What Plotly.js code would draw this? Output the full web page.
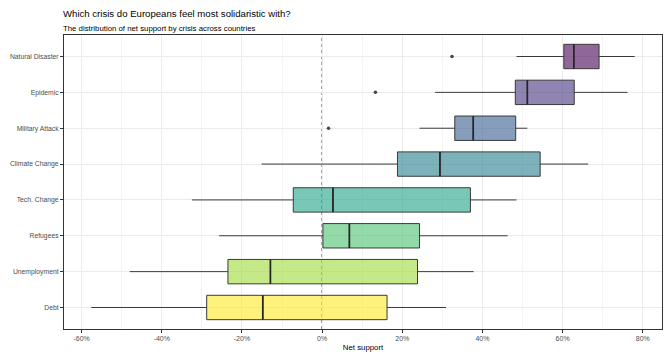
<!DOCTYPE html>
<html>
<head>
<meta charset="utf-8">
<script src="https://cdn.plot.ly/plotly-3.0.1.min.js"></script>
<style>
  html, body { margin: 0; padding: 0; background: #ffffff; }
  #chart { width: 668px; height: 352px; }
</style>
</head>
<body>
<div id="chart"></div>
<script>
// Net support (%) by crisis, summarised across countries
const crisis = ['Natural Disaster', 'Epidemic', 'Military Attack', 'Climate Change',
                'Tech. Change', 'Refugees', 'Unemployment', 'Debt'];
const lowerWhisker = [48.5, 28.2, 24.3, -15.1, -32.5, -25.7, -48.0, -57.6];
const q1           = [60.3, 48.2, 33.1, 18.8, -7.2, 0.2, -23.5, -28.8];
const median       = [62.8, 51.2, 37.7, 29.4, 2.7, 6.8, -12.9, -14.8];
const q3           = [69.1, 62.9, 48.3, 54.4, 37.0, 24.3, 23.8, 16.2];
const upperWhisker = [78.0, 76.2, 51.2, 66.4, 48.5, 46.3, 37.8, 30.9];

// Countries falling outside the whiskers
const outlierCrisis = ['Natural Disaster', 'Epidemic', 'Military Attack'];
const outlierValue  = [32.4, 13.3, 1.6];

// Axis ticks
const tickValues = [-60, -40, -20, 0, 20, 40, 60, 80];
const tickLabels = ['-60%', '-40%', '-20%', '0%', '20%', '40%', '60%', '80%'];
const minorTickValues = [-50, -30, -10, 10, 30, 50, 70];

// Viridis fill, one colour per crisis (alpha blended)
const fills = ['rgba(68,1,84,0.6)', 'rgba(70,51,126,0.6)', 'rgba(54,92,141,0.6)',
               'rgba(39,127,142,0.6)', 'rgba(31,161,135,0.6)', 'rgba(74,193,109,0.6)',
               'rgba(159,218,58,0.6)', 'rgba(253,231,37,0.6)'];

// Bottom-to-top order on the category axis
const yOrder = crisis.slice().reverse();
const BOX_WIDTH = 0.68;

const traces = crisis.map((c, i) => ({
  type: 'box',
  orientation: 'h',
  name: c,
  y: [c],
  q1: [q1[i]],
  median: [median[i]],
  q3: [q3[i]],
  lowerfence: [lowerWhisker[i]],
  upperfence: [upperWhisker[i]],
  width: BOX_WIDTH,
  fillcolor: fills[i],
  line: { color: '#3a3a3a', width: 1 },
  whiskerwidth: 0,
  boxpoints: false,
  hoverinfo: 'skip',
  showlegend: false
}));

traces.push({
  type: 'scatter',
  mode: 'markers',
  x: outlierValue,
  y: outlierCrisis,
  marker: { color: '#444444', size: 3.5 },
  hoverinfo: 'skip',
  showlegend: false
});

// Thicker median bars, as in a ggplot boxplot
const medianShapes = crisis.map((c, i) => {
  const idx = yOrder.indexOf(c);
  return {
    type: 'line', layer: 'above',
    xref: 'x', yref: 'y',
    x0: median[i], x1: median[i],
    y0: idx - BOX_WIDTH / 2, y1: idx + BOX_WIDTH / 2,
    line: { color: '#262626', width: 1.7 }
  };
});

const zeroLine = {
  type: 'line', layer: 'below',
  xref: 'x', yref: 'paper',
  x0: 0, x1: 0, y0: 0, y1: 1,
  line: { color: '#444444', width: 1.2, dash: 'dot' }
};

const layout = {
  width: 668,
  height: 352,
  paper_bgcolor: '#ffffff',
  plot_bgcolor: '#ffffff',
  margin: { l: 64, r: 6, t: 35, b: 23 },
  font: { family: 'Liberation Sans, Arial, sans-serif', color: '#000000' },
  boxmode: 'overlay',
  title: {
    text: 'Which crisis do Europeans feel most solidaristic with?',
    font: { size: 9.6, color: '#000000' },
    xref: 'container', yref: 'container',
    x: 63 / 668, xanchor: 'left',
    y: 1 - 14 / 352, yanchor: 'middle'
  },
  annotations: [{
    text: 'The distribution of net support by crisis across countries',
    xref: 'paper', yref: 'paper',
    x: 0, xanchor: 'left', xshift: -3,
    y: (329 - 28) / 294, yanchor: 'middle',
    showarrow: false,
    font: { size: 7.8, color: '#000000' }
  }],
  xaxis: {
    range: [-64.4, 84.8],
    tickmode: 'array',
    tickvals: tickValues,
    ticktext: tickLabels,
    tickfont: { size: 7, color: '#4d4d4d' },
    ticks: 'outside', ticklen: 3, tickcolor: '#333333', tickwidth: 1,
    showgrid: true, gridcolor: '#ebebeb', gridwidth: 1,
    minor: { tickmode: 'array', tickvals: minorTickValues, showgrid: true,
             gridcolor: '#f4f4f4', gridwidth: 1, ticks: '' },
    zeroline: false,
    showline: true, mirror: true, linecolor: '#333333', linewidth: 1,
    title: { text: 'Net support', font: { size: 7.8, color: '#000000' }, standoff: 4 },
    automargin: false
  },
  yaxis: {
    type: 'category',
    categoryorder: 'array',
    categoryarray: yOrder,
    range: [-0.6, 7.6],
    tickfont: { size: 6.8, color: '#4d4d4d' },
    ticks: 'outside', ticklen: 3, tickcolor: '#333333', tickwidth: 1,
    showgrid: true, gridcolor: '#ebebeb', gridwidth: 1,
    zeroline: false,
    showline: true, mirror: true, linecolor: '#333333', linewidth: 1,
    automargin: false
  },
  shapes: [zeroLine].concat(medianShapes)
};

Plotly.newPlot('chart', traces, layout, { displayModeBar: false, staticPlot: true });
</script>
</body>
</html>
